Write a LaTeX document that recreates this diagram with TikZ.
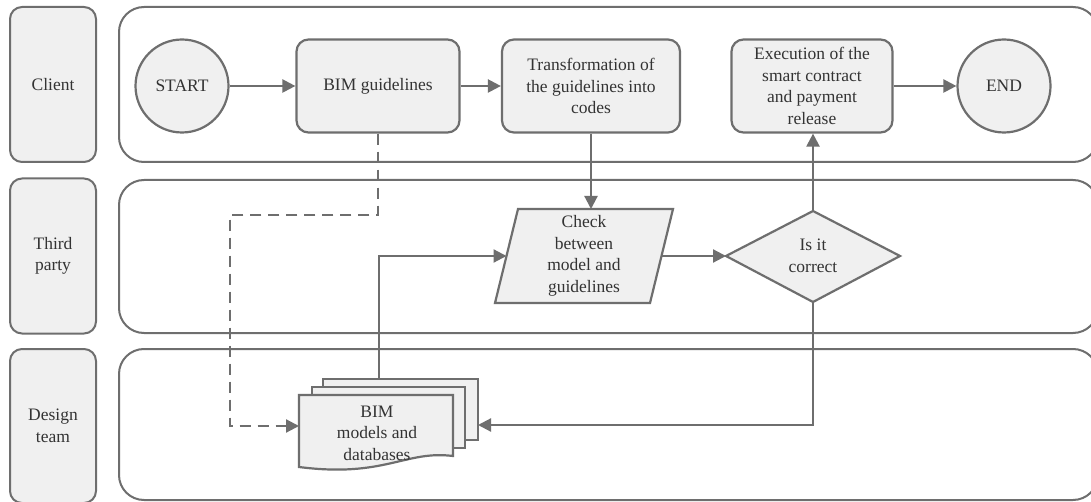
\documentclass[tikz,border=0pt]{standalone}
\usepackage{fontspec}
\setmainfont{Liberation Serif}
\usetikzlibrary{arrows.meta}
\definecolor{ln}{HTML}{6E6E6E}
\definecolor{fl}{HTML}{F0F0F0}
\definecolor{tx}{HTML}{333333}
\newcommand{\fsz}{\rmfamily\fontsize{17.5}{21.5}\selectfont}
\begin{document}
\begin{tikzpicture}[x=1pt,y=-1pt,
  lanelab/.style={draw=ln,line width=2pt,fill=fl,rounded corners=12pt,minimum width=86pt,align=center,font=\fsz,text=tx,inner sep=0pt},
  lane/.style={draw=ln,line width=2pt,fill=white,rounded corners=25pt},
  proc/.style={draw=ln,line width=2.2pt,fill=fl,rounded corners=12pt,minimum height=93pt,align=center,font=\fsz,text=tx,inner sep=0pt},
  circ/.style={draw=ln,line width=2.2pt,fill=fl,circle,minimum size=93pt,font=\fsz,text=tx,inner sep=0pt},
  shp/.style={draw=ln,line width=2.2pt,fill=fl,line join=miter},
  txt/.style={align=center,font=\fsz,text=tx,inner sep=0pt},
  arr/.style={draw=ln,line width=2.2pt,-{Triangle[length=13pt,width=13pt]}},
  darr/.style={arr,dash pattern=on 11pt off 7pt}
]
\useasboundingbox (0,0) rectangle (1091,502);
\clip (0,0) rectangle (1091,502);

% lane labels
\node[lanelab,minimum height=155pt] (lclient) at (53,84.5) {Client};
\node[lanelab,minimum height=155pt] (lthird) at (53,256) {Third\\party};
\node[lanelab,minimum height=154pt] (ldesign) at (53,426) {Design\\team};

% lanes
\draw[lane] (119,7) rectangle (1098,162);
\draw[lane] (119,180) rectangle (1098,333);
\draw[lane] (119,349) rectangle (1098,500);

% client row
\node[circ] (start) at (182,86) {START};
\node[proc,minimum width=163pt] (bimg) at (378,86) {BIM guidelines};
\node[proc,minimum width=178pt] (trans) at (591,86) {Transformation of\\the guidelines into\\codes};
\node[proc,minimum width=161pt] (exec) at (812,86) {Execution of the\\smart contract\\and payment\\release};
\node[circ] (end) at (1004,86) {END};

% check parallelogram
\draw[shp] (518,209) -- (673,209) -- (650,303) -- (495,303) -- cycle;
\node[txt] (check) at (584,256) {Check\\between\\model and\\guidelines};
\coordinate (checkT) at (591,209);
\coordinate (checkL) at (506.5,256);
\coordinate (checkR) at (661.5,256);

% decision diamond
\draw[shp] (726,256) -- (813,211) -- (900,256) -- (813,302) -- cycle;
\node[txt] (q) at (813,256) {Is it\\correct};
\coordinate (qL) at (726,256);
\coordinate (qT) at (813,211);
\coordinate (qB) at (813,302);

% document stack
\draw[shp] (323,379) rectangle (478,440);
\draw[shp] (312,387) rectangle (465,448);
\draw[shp] (299,395) -- (453,395) -- (453,456) .. controls (405,450) and (385,478) .. (299,467) -- cycle;
\node[txt] (docs) at (377,433) {BIM\\models and\\databases};
\coordinate (docT) at (379,379);
\coordinate (docR) at (478,425);
\coordinate (docL) at (299,426);
\coordinate (dk1) at (230,215);

% connectors
\draw[arr] (start) -- (bimg);
\draw[arr] (bimg) -- (trans);
\draw[arr] (exec) -- (end);
\draw[arr] (trans.south) -- (checkT);
\draw[arr] (checkR) -- (qL);
\draw[arr] (qT) -- (qT |- exec.south);
\draw[arr] (qB) |- (docR);
\draw[arr] (docT) |- (checkL);
\draw[darr] (bimg.south) |- (dk1) |- (docL);
\end{tikzpicture}
\end{document}
